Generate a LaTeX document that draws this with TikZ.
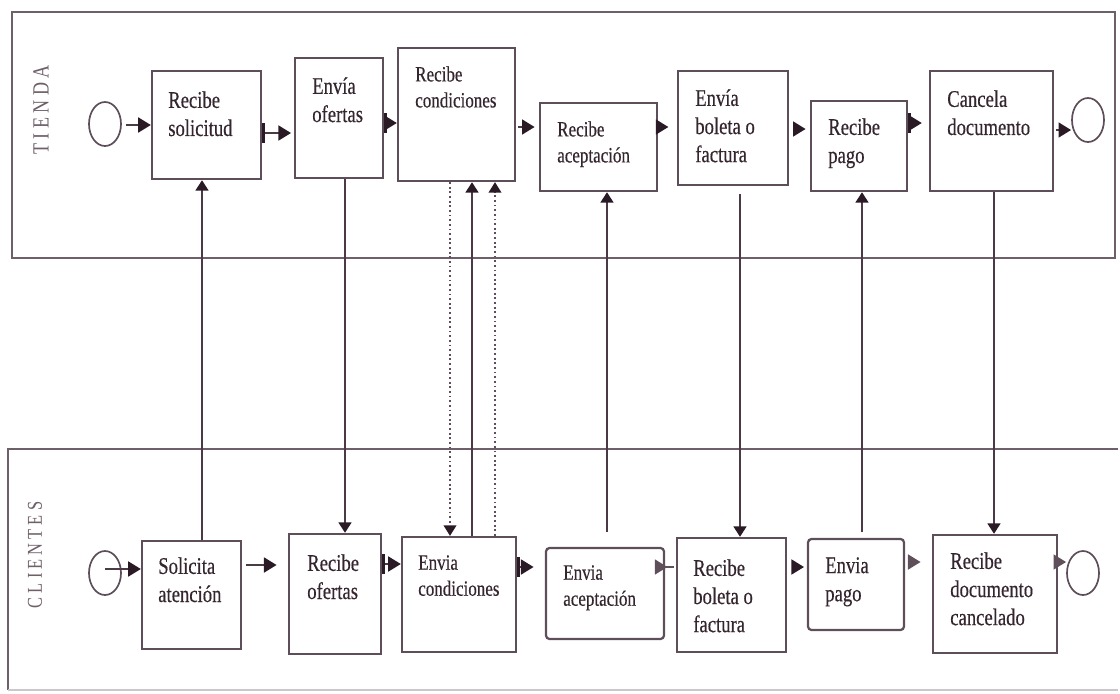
\documentclass[tikz,border=0pt]{standalone}
\usepackage{fontspec}
\setmainfont{Liberation Serif}
\newfontfamily\condserif[FakeStretch=0.78,FakeBold=0.4]{Liberation Serif}
\newfontfamily\labelserif[FakeStretch=0.78]{Liberation Serif}
\usetikzlibrary{arrows.meta,fit,shapes.geometric}

\definecolor{linecol}{HTML}{4B3A46}
\definecolor{headcol}{HTML}{2A1A26}
\definecolor{boxcol}{HTML}{5E4E59}
\definecolor{txtcol}{HTML}{35252F}
\definecolor{lanecol}{HTML}{6E5F69}
\definecolor{softcol}{HTML}{5F4F5A}

\begin{document}
\begin{tikzpicture}[x=0.025cm,y=-0.025cm,
  lane/.style={draw=lanecol, line width=1.5pt},
  lanelabel/.style={rotate=90, inner sep=0pt, text=lanecol,
    font=\labelserif\fontsize{16.5}{16.5}\selectfont},
  box/.style={draw=boxcol, line width=1.6pt, inner sep=0pt},
  rbox/.style={box, rounded corners=2.5pt},
  evt/.style={draw=boxcol, line width=1.2pt, ellipse, inner sep=0pt,
    minimum width=0.8cm, minimum height=1.1cm},
  txt/.style={anchor=north west, inner sep=0pt, align=left, text=txtcol,
    font=\condserif\fontsize{17}{20}\selectfont},
  stxt/.style={txt, font=\condserif\fontsize{15.5}{18.5}\selectfont},
  flow/.style={draw=linecol, line width=1.8pt, -{Triangle[length=9pt,width=10.5pt,color=headcol]}},
  barflow/.style={draw=linecol, line width=1.8pt,
    {Bar[width=14pt,line width=1.8pt,color=headcol]}-{Triangle[length=9pt,width=10.5pt,color=headcol]}},
  softflow/.style={draw=softcol, line width=1.8pt, -{Triangle[length=9pt,width=10.5pt,color=softcol]}},
  msg/.style={draw=linecol, line width=2pt, -{Triangle[length=7.5pt,width=9pt,color=headcol]}},
  dmsg/.style={draw=softcol, line width=1.3pt, dotted, -{Triangle[length=7.5pt,width=9pt,color=headcol]}}]

\useasboundingbox (0,0) rectangle (1120,693);

% pools
\draw[lane] (12,12) rectangle (1115,258);
\draw[lane] (1118,449) -- (8,449) -- (8,690);
\draw[lane, draw=lanecol!35] (8,690) -- (1118,690);
\node[lanelabel] (ltienda) at (41,110) {T I E N D A};
\node[lanelabel, font=\labelserif\fontsize{15}{15}\selectfont] (lclientes) at (35,555) {C L I E N T E S};

% store lane
\node[evt] (ts) at (105,124) {};
\node[box, fit={(152,71) (261,179)}] (t1) {};
\node[box, fit={(295,58) (383,178)}] (t2) {};
\node[box, fit={(398,48) (515,181)}] (t3) {};
\node[box, fit={(540,103) (657,191)}] (t4) {};
\node[box, fit={(678,71) (788,185)}] (t5) {};
\node[box, fit={(811,101) (907,191)}] (t6) {};
\node[box, fit={(930,71) (1053,191)}] (t7) {};
\node[evt] (te) at (1088,120) {};

\node[txt]  (t1l) at (168,91)  {Recibe\\solicitud};
\node[txt]  (t2l) at (312,77)  {Envía\\ofertas};
\node[stxt] (t3l) at (415,66)  {Recibe\\condiciones};
\node[stxt] (t4l) at (557,121) {Recibe\\aceptación};
\node[txt]  (t5l) at (695,89)  {Envía\\boleta o\\factura};
\node[txt]  (t6l) at (828,118) {Recibe\\pago};
\node[txt]  (t7l) at (947,90)  {Cancela\\documento};

% customer lane
\node[evt] (cs) at (105,573) {};
\node[box,  fit={(142,541) (241,649)}] (c1) {};
\node[box,  fit={(289,534) (381,654)}] (c2) {};
\node[box,  fit={(402,537) (516,652)}] (c3) {};
\node[rbox, fit={(546,548) (664,639)}] (c4) {};
\node[box,  fit={(677,538) (786,652)}] (c5) {};
\node[rbox, fit={(808,539) (904,630)}] (c6) {};
\node[box,  fit={(933,535) (1057,653)}] (c7) {};
\node[evt] (ce) at (1083,573) {};

\node[txt]  (c1l) at (158,557) {Solicita\\atención};
\node[txt]  (c2l) at (307,554) {Recibe\\ofertas};
\node[stxt] (c3l) at (418,555) {Envia\\condiciones};
\node[stxt] (c4l) at (563,565) {Envia\\aceptación};
\node[txt]  (c5l) at (693,559) {Recibe\\boleta o\\factura};
\node[txt]  (c6l) at (825,557) {Envia\\pago};
\node[txt]  (c7l) at (950,552) {Recibe\\documento\\cancelado};

% sequence flow, store
\draw[flow, shorten <=3pt] (ts.east |- 0,125) -- (t1.west |- 0,125);
\draw[barflow] (t1.east |- 0,133) -- ([xshift=-2pt]t2.west |- 0,133);
\draw[barflow] (t2.east |- 0,123) -- (t3.west |- 0,123);
\draw[flow, shorten <=1.5pt, shorten >=3pt] (t3.east |- 0,127) -- (t4.west |- 0,127);
\draw[flow, shorten >=6pt] (t4.east |- 0,127) -- (t5.west |- 0,127);
\draw[flow, shorten <=4pt, shorten >=3pt] (t5.east |- 0,129) -- (t6.west |- 0,129);
\draw[barflow, shorten >=5pt] (t6.east |- 0,123) -- (t7.west |- 0,123);
\draw[flow, shorten <=1.5pt] (t7.east |- 0,130) -- (te.west |- 0,130);

% sequence flow, customer
\draw[flow] (cs.center |- 0,569) -- (c1.west |- 0,569);
\draw[flow, shorten <=3pt, shorten >=8pt] (c1.east |- 0,565) -- (c2.west |- 0,565);
\draw[barflow] (c2.east |- 0,564) -- (c3.west |- 0,564);
\draw[barflow, shorten >=8pt] (c3.east |- 0,567) -- (c4.west |- 0,567);
\draw[softflow, shorten <=-6pt, shorten >=6pt] (c4.east |- 0,567) -- (c5.west |- 0,567);
\draw[flow, shorten <=4pt, shorten >=2pt] (c5.east |- 0,567) -- (c6.west |- 0,567);
\draw[softflow, shorten <=2pt, shorten >=8pt] (c6.east |- 0,562) -- (c7.west |- 0,562);
\draw[softflow] (c7.east |- 0,562) -- (ce.west |- 0,562);

% message flow between the pools
\draw[msg] (c1.north -| 202,0) -- (t1.south -| 202,0);
\draw[msg] (t2.south -| 345,0) -- (c2.north -| 345,0);
\draw[dmsg] (t3.south -| 450,0) -- (c3.north -| 450,0);
\draw[msg] (c3.north -| 472,0) -- (t3.south -| 472,0);
\draw[dmsg] (c3.north -| 495,0) -- (t3.south -| 495,0);
\draw[msg, shorten <=10.5pt] (c4.north -| 607,0) -- (t4.south -| 607,0);
\draw[msg, shorten <=5.5pt] (t5.south -| 740,0) -- (c5.north -| 740,0);
\draw[msg, shorten <=4pt] (c6.north -| 862,0) -- (t6.south -| 862,0);
\draw[msg] (t7.south -| 994,0) -- (c7.north -| 994,0);

\end{tikzpicture}
\end{document}
